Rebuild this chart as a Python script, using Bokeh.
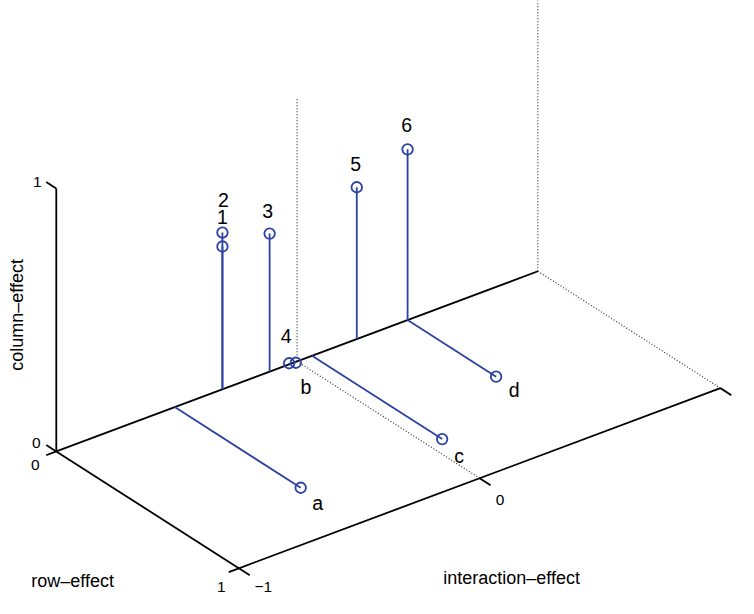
from bokeh.plotting import figure
from bokeh.models import Range1d, ColumnDataSource
from bokeh.core.properties import value
from bokeh.embed import file_html
from bokeh.resources import INLINE

# ---------------- data ----------------
# column-effect stems (vertical), standing on the interaction axis at row-effect = 0
col_labels = ["1", "2", "3", "4", "5", "6"]
col_interaction = [-0.310, -0.310, -0.114, -0.033, 0.248, 0.459]
col_effect = [0.543, 0.596, 0.525, 0.004, 0.577, 0.649]

# row-effect stems, standing on the interaction axis at column-effect = 0
row_labels = ["a", "b", "c", "d"]
row_interaction = [-0.508, -0.009, 0.062, 0.459]
row_effect = [0.690, 0.005, 0.713, 0.485]

# axes
col_ticks = [0, 1]
col_tick_labels = ["0", "1"]
row_ticks = [0, 1]
row_tick_labels = ["0", "1"]
int_ticks = [-1, 0]
int_tick_labels = ["\u22121", "0"]
int_range = (-1, 1)
row_range = (0, 1)
col_range = (0, 1)

# ---------------- projection (style) ----------------
ORIGIN = (57.0, 463.0)
E_R = (186.5, 120.0)
E_I = (246.0, -92.5)
E_C = (0.0, -270.0)


def proj(r, i, c):
    ii = i - int_range[0]
    x = ORIGIN[0] + E_R[0] * r + E_I[0] * ii + E_C[0] * c
    y = ORIGIN[1] + E_R[1] * r + E_I[1] * ii + E_C[1] * c
    return x, y


BLUE = "#2b41a3"
FONT = "Liberation Sans"

p = figure(width=738, height=598, x_range=Range1d(0, 754), y_range=Range1d(614, 0),
           output_backend="svg", toolbar_location=None, min_border=0,
           x_axis_type=None, y_axis_type=None)
p.grid.visible = False
p.outline_line_color = None
p.background_fill_color = "white"

# ---- dotted grid / box lines ----
dx0, dy0, dx1, dy1 = [], [], [], []
for (a, b) in [((0, 1, 0), (0, 1, 1.03)), ((0, 1, 0), (1, 1, 0)),
               ((0, 0, 0), (0, 0, 1)), ((0, 0, 0), (1, 0, 0))]:
    x0, y0 = proj(*a)
    x1, y1 = proj(*b)
    dx0.append(x0); dy0.append(y0); dx1.append(x1); dy1.append(y1)
p.segment(dx0, dy0, dx1, dy1, line_color="#333333", line_width=1.2, line_dash="1 2")

# ---- solid axes ----
sx0, sy0, sx1, sy1 = [], [], [], []
axes3d = [((0, -1, col_range[0]), (0, -1, col_range[1])),
          ((row_range[0], -1, 0), (row_range[1], -1, 0)),
          ((1, int_range[0], 0), (1, int_range[1], 0)),
          ((0, int_range[0], 0), (0, int_range[1], 0))]
for c in col_ticks:
    axes3d.append(((0, -1, c), (-0.055, -1, c)))
for r in row_ticks:
    axes3d.append(((r, -1, 0), (r, -1.042, 0)))
for i in int_ticks + [1]:
    axes3d.append(((1, i, 0), (1.06, i, 0)))
for (a, b) in axes3d:
    x0, y0 = proj(*a)
    x1, y1 = proj(*b)
    sx0.append(x0); sy0.append(y0); sx1.append(x1); sy1.append(y1)
p.segment(sx0, sy0, sx1, sy1, line_color="black", line_width=1.8)

# ---- tick labels ----
tx, ty, tt, tox, toy = [], [], [], [], []
for c, lab, off in zip(col_ticks, col_tick_labels, [(-20, -8), (-19, -6)]):
    x, y = proj(0, -1, c)
    tx.append(x); ty.append(y); tt.append(lab); tox.append(off[0]); toy.append(off[1])
for r, lab, off in zip(row_ticks, row_tick_labels, [(-21, 14), (-17.5, 19)]):
    x, y = proj(r, -1, 0)
    tx.append(x); ty.append(y); tt.append(lab); tox.append(off[0]); toy.append(off[1])
for i, lab, off in zip(int_ticks, int_tick_labels, [(24.5, 19), (20.5, 21.5)]):
    x, y = proj(1, i, 0)
    tx.append(x); ty.append(y); tt.append(lab); tox.append(off[0]); toy.append(off[1])
p.text(x="x", y="y", text="t", x_offset="ox", y_offset="oy",
       source=ColumnDataSource(dict(x=tx, y=ty, t=tt, ox=tox, oy=toy)),
       text_font=value(FONT), text_font_size="15.5px", text_color="black",
       text_align="center", text_baseline="middle")

# ---- axis titles ----
xr, yr = proj(0.5, -1, 0)
xi, yi = proj(1, 0, 0)
xc, yc = proj(0, -1, 0.5)
p.text(x=[xr], y=[yr], text=["row\u2013effect"], x_offset=[-75], y_offset=[71],
       text_font=value(FONT), text_font_size="18px", text_align="center",
       text_baseline="middle", text_color="black")
p.text(x=[xi], y=[yi], text=["interaction\u2013effect"], x_offset=[32], y_offset=[100],
       text_font=value(FONT), text_font_size="18px", text_align="center",
       text_baseline="middle", text_color="black")
p.text(x=[xc], y=[yc], text=["column\u2013effect"], x_offset=[-39], y_offset=[-5],
       angle=1.5708, text_font=value(FONT), text_font_size="18px", text_align="center",
       text_baseline="middle", text_color="black")

# ---- column-effect stems ----
cbx, cby, ctx, cty = [], [], [], []
for i, c in zip(col_interaction, col_effect):
    x0, y0 = proj(0, i, 0)
    x1, y1 = proj(0, i, c)
    cbx.append(x0); cby.append(y0); ctx.append(x1); cty.append(y1)
p.segment(cbx, cby, ctx, cty, line_color=BLUE, line_width=1.8)

# ---- row-effect stems ----
rbx, rby, rtx, rty = [], [], [], []
for i, r in zip(row_interaction, row_effect):
    x0, y0 = proj(0, i, 0)
    x1, y1 = proj(r, i, 0)
    rbx.append(x0); rby.append(y0); rtx.append(x1); rty.append(y1)
p.segment(rbx, rby, rtx, rty, line_color=BLUE, line_width=1.8)

p.scatter(ctx + rtx, cty + rty, marker="circle", size=10.5, fill_color=None,
          line_color=BLUE, line_width=1.8)

# ---- point labels ----
col_lab_off = [(0, -29), (1, -33), (-2, -23), (-3, -27), (-1, -23), (-1, -24)]
row_lab_off = [(17, 15), (10, 24), (17, 17), (18, 13)]
p.text(x="x", y="y", text="t", x_offset="ox", y_offset="oy",
       source=ColumnDataSource(dict(
           x=ctx + rtx, y=cty + rty, t=col_labels + row_labels,
           ox=[o[0] for o in col_lab_off + row_lab_off],
           oy=[o[1] for o in col_lab_off + row_lab_off])),
       text_font=value(FONT), text_font_size="19.5px", text_color="black",
       text_align="center", text_baseline="middle")

open("out.html", "w").write(file_html(p, INLINE))
